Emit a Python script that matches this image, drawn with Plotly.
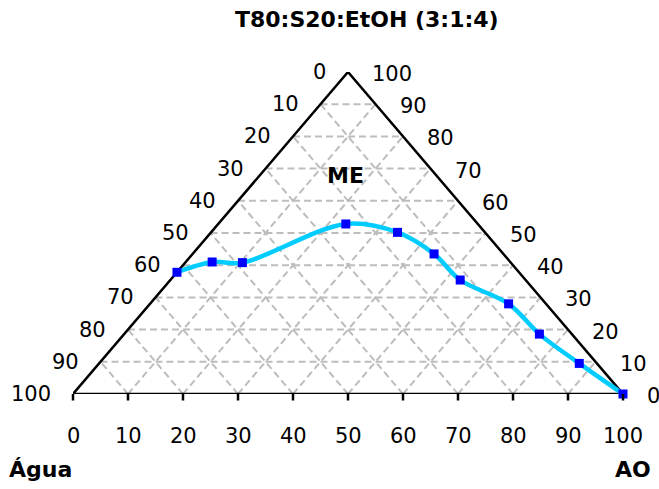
import plotly.graph_objects as go

# Phase boundary composition (%), Água = 100 - AO - ME
ao_pct = [0.0, 4.8, 10.4, 23.2, 33.9, 43.9, 52.7, 65.2, 75.5, 87.3, 100.0]
me_pct = [37.8, 41.0, 40.8, 52.8, 50.2, 43.5, 35.4, 28.0, 18.6, 9.5, 0.0]

grid_levels = [10, 20, 30, 40, 50, 60, 70, 80, 90]
tick_values = [0, 10, 20, 30, 40, 50, 60, 70, 80, 90, 100]

title_text = "T80:S20:EtOH (3:1:4)"
apex_label = "ME"
left_label = "Água"
right_label = "AO"

FONT = "DejaVu Sans, Verdana, sans-serif"
GRID = "#BDBDBD"
GRID_LINE = dict(color=GRID, width=2, dash="7px,4px")


def to_xy(ao, me):
    """Ternary (AO, ME) -> planar position on a base running 0..100."""
    return ao + me / 2.0, me


fig = go.Figure()

# dashed grid: constant ME (horizontal), constant AO and constant Água (diagonals)
for k in grid_levels:
    segs = [
        (to_xy(0, k), to_xy(100 - k, k)),
        (to_xy(k, 0), to_xy(k, 100 - k)),
        (to_xy(100 - k, 0), to_xy(0, 100 - k)),
    ]
    for (x0, y0), (x1, y1) in segs:
        fig.add_trace(go.Scatter(x=[x0, x1], y=[y0, y1], mode="lines", line=GRID_LINE,
                                 hoverinfo="skip", showlegend=False))

# triangle outline
corners = [to_xy(0, 0), to_xy(100, 0), to_xy(0, 100), to_xy(0, 0)]
fig.add_trace(go.Scatter(x=[c[0] for c in corners], y=[c[1] for c in corners],
                         mode="lines", line=dict(color="black", width=2.5),
                         hoverinfo="skip", showlegend=False, cliponaxis=False))

# tick marks under the base
for t in tick_values:
    fig.add_annotation(x=t, y=0, xref="x", yref="y", text="", showarrow=True,
                       arrowhead=0, arrowwidth=2.5, arrowcolor="black",
                       ax=0, ay=8, standoff=0)

# boundary curve and measured points
px, py = zip(*[to_xy(a, m) for a, m in zip(ao_pct, me_pct)])
fig.add_trace(go.Scatter(x=px, y=py, mode="lines",
                         line=dict(color="#00CCFF", width=4.5, shape="spline", smoothing=1.0),
                         hoverinfo="skip", showlegend=False, cliponaxis=False))
fig.add_trace(go.Scatter(x=px, y=py, mode="markers",
                         marker=dict(symbol="square", size=9, color="#0000FF"),
                         showlegend=False, cliponaxis=False))

num_font = dict(family=FONT, size=21, color="black")

# bottom scale
for t in tick_values:
    fig.add_annotation(x=t, y=0, xref="x", yref="y", text=str(t), showarrow=False,
                       xanchor="center", yanchor="middle", yshift=-42, font=num_font)

# side scales labelling the horizontal levels
for k in tick_values:
    xl, yl = to_xy(0, k)
    fig.add_annotation(x=xl, y=yl, xref="x", yref="y", text=str(100 - k), showarrow=False,
                       xanchor="right", yanchor="middle", xshift=-20, font=num_font)
    xr, yr = to_xy(100 - k, k)
    fig.add_annotation(x=xr, y=yr, xref="x", yref="y", text=str(k), showarrow=False,
                       xanchor="left", yanchor="middle", xshift=22, yshift=-2, font=num_font)

bold = dict(family=FONT, size=22, color="black")
fig.add_annotation(x=0.535, y=1.1615, xref="paper", yref="paper", text="<b>%s</b>" % title_text,
                   showarrow=False, xanchor="center", yanchor="middle",
                   font=dict(family=FONT, size=22, color="black"))
fig.add_annotation(x=49.6, y=68.0, xref="x", yref="y", text="<b>%s</b>" % apex_label,
                   showarrow=False, xanchor="center", yanchor="middle", font=bold)
fig.add_annotation(x=-0.12, y=-0.235, xref="paper", yref="paper", text="<b>%s</b>" % left_label,
                   showarrow=False, xanchor="left", yanchor="middle", font=bold)
fig.add_annotation(x=1.055, y=-0.235, xref="paper", yref="paper", text="<b>%s</b>" % right_label,
                   showarrow=False, xanchor="right", yanchor="middle", font=bold)

fig.update_layout(
    width=659, height=489,
    margin=dict(l=73, r=36, t=72, b=95),
    paper_bgcolor="white", plot_bgcolor="white",
    xaxis=dict(range=[0, 100], visible=False, fixedrange=True),
    yaxis=dict(range=[0, 100], visible=False, fixedrange=True),
    showlegend=False,
)

fig.write_html("out.html")
